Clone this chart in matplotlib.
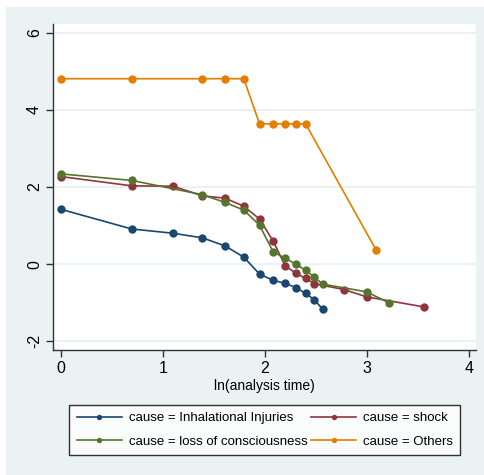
import matplotlib
matplotlib.use("Agg")
import matplotlib.pyplot as plt
from matplotlib.patches import Rectangle

plt.rcParams["font.family"] = ["Liberation Sans", "DejaVu Sans"]

# ln(analysis time) and the plotted survival transform
inhal_x = [0.0, 0.693, 1.099, 1.386, 1.609, 1.792, 1.946, 2.079, 2.197, 2.303, 2.398, 2.485, 2.565]
inhal_y = [1.42, 0.91, 0.80, 0.68, 0.47, 0.18, -0.26, -0.42, -0.50, -0.61, -0.76, -0.93, -1.17]

shock_x = [0.0, 0.693, 1.099, 1.386, 1.609, 1.792, 1.946, 2.079, 2.197, 2.303, 2.398, 2.485, 2.773, 2.996, 3.555]
shock_y = [2.27, 2.03, 2.02, 1.77, 1.71, 1.50, 1.17, 0.60, -0.04, -0.24, -0.37, -0.51, -0.66, -0.85, -1.11]

loss_x = [0.0, 0.693, 1.386, 1.609, 1.792, 1.946, 2.079, 2.197, 2.303, 2.398, 2.485, 2.565, 2.996, 3.219]
loss_y = [2.34, 2.17, 1.80, 1.60, 1.40, 1.01, 0.32, 0.15, 0.00, -0.16, -0.34, -0.52, -0.72, -1.01]

other_x = [0.0, 0.693, 1.386, 1.609, 1.792, 1.946, 2.079, 2.197, 2.303, 2.398, 3.091]
other_y = [4.81, 4.81, 4.81, 4.81, 4.81, 3.64, 3.64, 3.64, 3.64, 3.64, 0.36]

labels = [
    "cause = Inhalational Injuries",
    "cause = shock",
    "cause = loss of consciousness",
    "cause = Others",
]
colors = ["#1a476f", "#90353b", "#55752f", "#e37e00"]

x_ticks = [0, 1, 2, 3, 4]
y_ticks = [-2, 0, 2, 4, 6]

W, H = 485, 475
fig = plt.figure(figsize=(W / 100, H / 100), dpi=100)
fig.patch.set_facecolor("white")

# Stata-like graph region
fig.patches.append(
    Rectangle((6 / W, 0), 1 - 6 / W, 1 - 7 / H, transform=fig.transFigure,
              facecolor="#eaf2f3", edgecolor="none", zorder=-5)
)

ax = fig.add_axes([53 / W, 1 - 350 / H, (476 - 53) / W, (350 - 24) / H])
ax.set_facecolor("white")

series = [
    (inhal_x, inhal_y),
    (shock_x, shock_y),
    (loss_x, loss_y),
    (other_x, other_y),
]
handles = []
for (xs, ys), lab, c in zip(series, labels, colors):
    (h,) = ax.plot(xs, ys, color=c, lw=1.2, marker="o", markersize=6,
                   markeredgewidth=0, label=lab, zorder=3)
    handles.append(h)

ax.set_xlim(-0.08, 4.07)
ax.set_ylim(-2.23, 6.23)
ax.set_xticks(x_ticks)
ax.set_yticks(y_ticks)
ax.set_yticklabels([str(v) for v in y_ticks], rotation=90, va="center")

ax.grid(axis="y", color="#eaf2f3", lw=1.5, zorder=0)
ax.grid(axis="x", visible=False)
ax.set_axisbelow(True)

for side in ["top", "right"]:
    ax.spines[side].set_visible(False)
for side in ["left", "bottom"]:
    ax.spines[side].set_color("#333333")
    ax.spines[side].set_linewidth(1.0)

ax.tick_params(axis="both", direction="out", length=5, width=1.0,
               color="#333333", labelsize=11.5, pad=3)
ax.set_xlabel("ln(analysis time)", fontsize=10, labelpad=2)

# legend order: row-wise two columns
order = [0, 2, 1, 3]
leg = fig.legend(
    [handles[i] for i in order],
    [labels[i] for i in order],
    loc="center",
    bbox_to_anchor=(69.5 / W, 1 - 456 / H, 391 / W, 52 / H),
    mode="expand",
    ncol=2,
    fontsize=9.5,
    frameon=True,
    fancybox=False,
    handlelength=3.4,
    handletextpad=0.55,
    labelspacing=0.85,
    borderpad=0.55,
    borderaxespad=0,
    columnspacing=1.0,
    markerscale=0.65,
)
leg.get_frame().set_edgecolor("black")
leg.get_frame().set_linewidth(1.0)
leg.get_frame().set_facecolor("white")

fig.savefig("out.png", dpi=100)
